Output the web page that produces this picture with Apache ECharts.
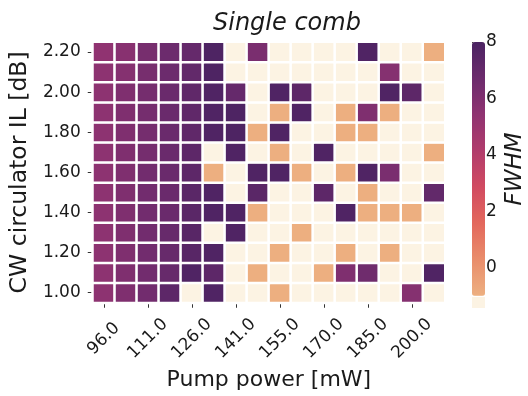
<!DOCTYPE html>
<html>
<head>
<meta charset="utf-8">
<script src="https://cdn.jsdelivr.net/npm/echarts@6/dist/echarts.min.js"></script>
<style>html,body{margin:0;padding:0;background:#fff}#c{width:528px;height:396px}</style>
</head>
<body>
<div id="c"></div>
<script>
// Pump power categories (x), CW circulator IL categories (y)
const pumpLabels = ['96.0','103.0','111.0','118.0','126.0','133.0','141.0','148.0','155.0','163.0','170.0','177.0','185.0','192.0','200.0','207.0'];
const ilLabels = ['1.00','1.10','1.20','1.30','1.40','1.50','1.60','1.70','1.80','1.90','2.00','2.10','2.20'];
// FWHM values per IL row (bottom row 1.00 first); -2 = no comb (cream), -0.95 = lowest colour
const row100 = [5.5, 6.0, 6.5, 7.3, -2, 7.8, -2, -2, -0.95, -2, -2, -2, -2, -2, 5.8, -2];
const row110 = [5.5, 6.0, 6.5, 6.9, 7.8, 7.3, -2, -0.95, -2, -2, -0.95, 6.0, 6.6, -2, -2, 7.8];
const row120 = [5.5, 6.0, 6.5, 6.9, 7.5, 7.8, -2, -2, -0.95, -2, -2, -0.95, -2, -0.95, -2, -2];
const row130 = [5.5, 6.0, 6.5, 6.9, 7.5, -2, 7.8, -2, -2, -0.95, -2, -2, -2, -2, -2, -2];
const row140 = [5.5, 6.0, 6.5, 6.8, 7.4, 7.8, 7.8, -0.95, -2, -2, -2, 7.8, -0.95, -0.95, -0.95, -2];
const row150 = [5.5, 6.0, 6.5, 6.8, 7.4, 7.8, -2, 7.4, -2, -2, 7.3, -2, -0.95, -2, -2, 7.1];
const row160 = [5.5, 6.0, 6.5, 6.8, 7.3, -0.95, -2, 7.8, 7.8, -0.95, -2, -0.95, 7.8, 6.2, -2, -2];
const row170 = [5.5, 6.0, 6.4, 6.8, 7.3, -2, 7.8, -2, -0.95, -2, 7.8, -2, -2, -2, -2, -0.95];
const row180 = [5.5, 6.0, 6.4, 6.8, 7.2, 7.8, 7.9, -0.95, 7.8, -2, -2, -0.95, -0.95, -2, -2, -2];
const row190 = [5.5, 6.0, 6.4, 6.8, 7.2, 7.8, 7.9, -2, -0.95, 7.8, -2, -0.95, 6.0, -0.95, -2, -2];
const row200 = [5.5, 6.0, 6.4, 6.8, 7.2, 7.8, 7.0, -2, 7.8, 7.3, -2, -2, -2, 7.8, 7.3, -2];
const row210 = [5.5, 5.8, 6.3, 6.7, 7.1, 7.9, -2, -2, -2, -2, -2, -2, -2, 5.8, -2, -2];
const row220 = [5.4, 5.7, 6.3, 6.7, 7.0, 7.9, -2, 6.2, -2, -2, -2, -2, 7.8, -2, -2, -0.95];
const colorbarTicks = [0, 2, 4, 6, 8];

const rows = [row100,row110,row120,row130,row140,row150,row160,row170,row180,row190,row200,row210,row220];
const data = [];
rows.forEach((r, yi) => r.forEach((v, xi) => data.push([xi, yi, v])));

const FONT = 'DejaVu Sans';
const TXT = '#1a1a1a';
const flare = ['#edb081','#e98d6b','#e3685c','#d14a61','#b13c6c','#8f3371','#6c2b6d','#4b2362'];
const CREAM = '#fcf3e3';

const chart = echarts.init(document.getElementById('c'), null, {renderer:'canvas'});
chart.setOption({
  animation: false,
  backgroundColor: '#fff',
  textStyle: {fontFamily: FONT, color: TXT},
  title: {
    text: 'Single comb', left: 213, top: 12, padding: 0,
    textStyle: {fontFamily: FONT, fontSize: 24, fontStyle: 'italic', fontWeight: 'normal', color: TXT}
  },
  grid: [
    {left: 92, top: 42, width: 353, height: 268},
    {left: 472, top: 42, width: 13, height: 254}
  ],
  xAxis: [
    {
      type: 'category', gridIndex: 0, data: pumpLabels,
      axisLine: {show: false},
      axisTick: {show: true, alignWithLabel: true, interval: 1, length: 5, lineStyle: {color: '#333', width: 1}},
      axisLabel: {interval: 1, rotate: 45, align: 'center', verticalAlign: 'middle', margin: 36,
                  fontSize: 17, fontFamily: FONT, color: TXT},
      splitLine: {show: false},
      name: 'Pump power [mW]', nameLocation: 'middle', nameGap: 65,
      nameTextStyle: {fontSize: 22, fontFamily: FONT, color: TXT}
    },
    {type: 'value', gridIndex: 1, show: false, min: 0, max: 1}
  ],
  yAxis: [
    {
      type: 'category', gridIndex: 0, data: ilLabels,
      axisLine: {show: false},
      axisTick: {show: true, alignWithLabel: true, length: 5, lineStyle: {color: '#333', width: 1}},
      axisLabel: {margin: 12, fontSize: 17, fontFamily: FONT, color: TXT},
      splitLine: {show: false},
      name: 'CW circulator IL [dB]', nameLocation: 'middle', nameGap: 46, nameRotate: 90,
      nameTextStyle: {fontSize: 23.5, fontFamily: FONT, color: TXT}
    },
    {
      type: 'value', gridIndex: 1, position: 'right', min: -1, max: 8,
      axisLine: {show: false},
      axisTick: {show: true, customValues: colorbarTicks, length: 6, lineStyle: {color: '#333', width: 1}},
      axisLabel: {customValues: colorbarTicks, margin: 10, fontSize: 17, fontFamily: FONT, color: TXT},
      splitLine: {show: false},
      name: 'FWHM', nameLocation: 'middle', nameGap: 28, nameRotate: 90,
      nameTextStyle: {fontSize: 23, fontFamily: FONT, fontStyle: 'italic', color: TXT}
    }
  ],
  visualMap: {
    type: 'continuous', min: -1, max: 8, range: [-0.99, 8], calculable: false, orient: 'vertical',
    left: 472, top: 42, itemWidth: 13, itemHeight: 254, padding: 0, text: null,
    seriesIndex: 0, hoverLink: false,
    inRange: {color: flare},
    outOfRange: {color: CREAM}
  },
  graphic: [
    {type: 'rect', left: 472, top: 297, shape: {width: 13, height: 11}, style: {fill: CREAM}, silent: true}
  ],
  series: [
    {
      type: 'heatmap', xAxisIndex: 0, yAxisIndex: 0, data: data,
      itemStyle: {borderColor: '#ffffff', borderWidth: 2.5},
      emphasis: {disabled: true}
    },
    {type: 'scatter', xAxisIndex: 1, yAxisIndex: 1, data: [], silent: true}
  ]
});
</script>
</body>
</html>
